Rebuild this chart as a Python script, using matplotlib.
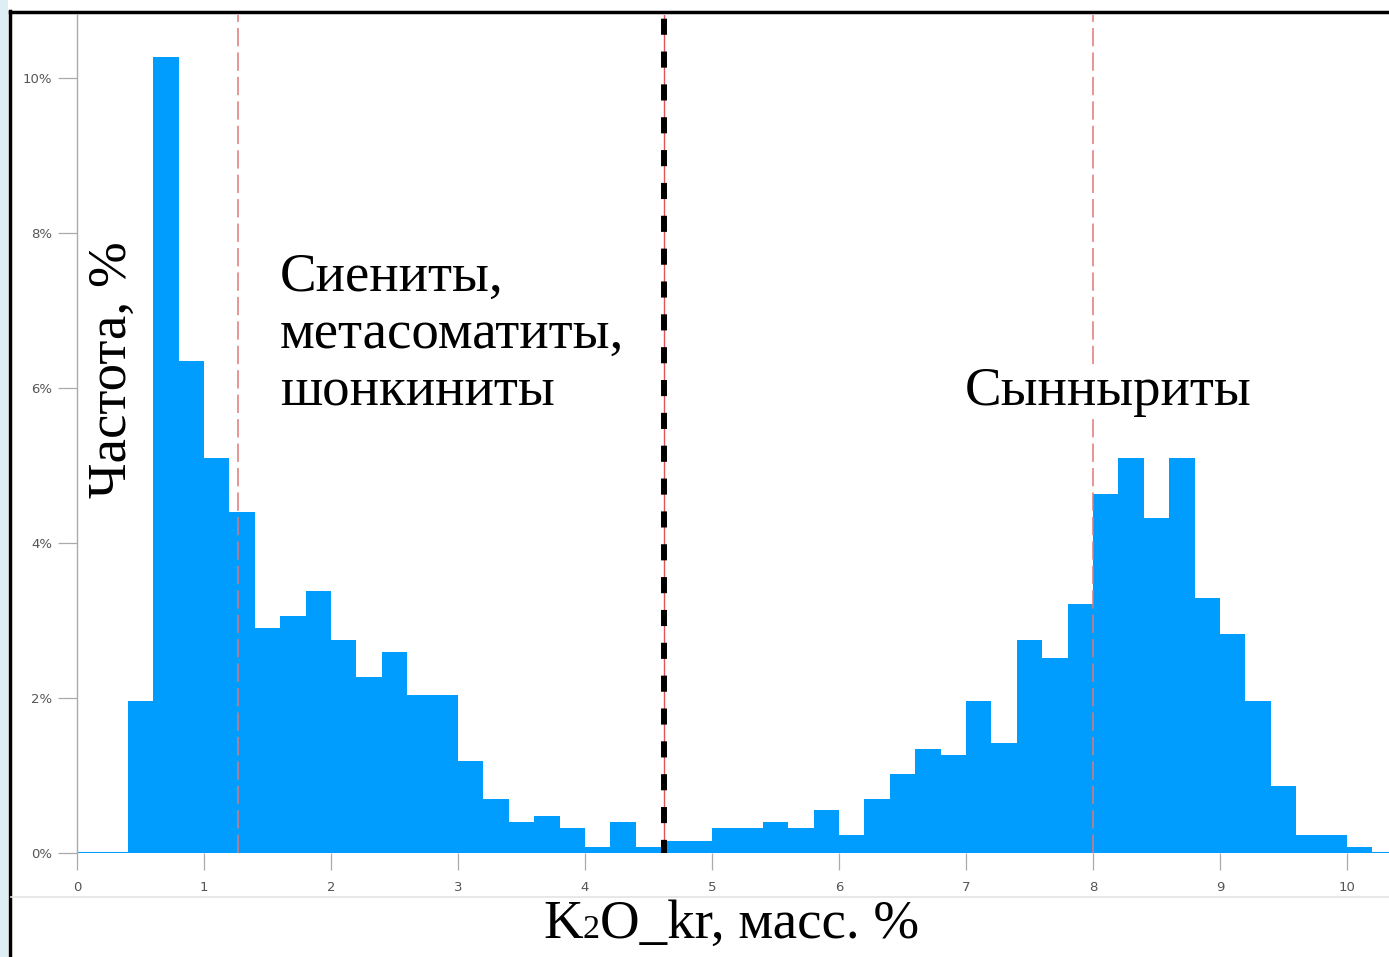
import numpy as np
import matplotlib.pyplot as plt
from matplotlib.lines import Line2D
from matplotlib.patches import Rectangle

# K2O_kr histogram, bin width 0.2 mass %, starting at 0
bin_width = 0.2
freq = [0, 0, 1.96, 10.27, 6.35, 5.10, 4.40, 2.90, 3.06, 3.38,
        2.75, 2.27, 2.59, 2.04, 2.04, 1.19, 0.70, 0.40, 0.48, 0.32,
        0.08, 0.40, 0.08, 0.16, 0.16, 0.32, 0.32, 0.40, 0.32, 0.55,
        0.23, 0.70, 1.02, 1.34, 1.26, 1.96, 1.42, 2.75, 2.52, 3.21,
        4.63, 5.10, 4.32, 5.10, 3.29, 2.83, 1.96, 0.86, 0.23, 0.23,
        0.08]
edges = np.round(np.arange(len(freq) + 1) * bin_width, 1)

mean_lines = [1.27, 8.0]
border = 4.62
xticks = list(range(0, 11))
yticks = [0, 2, 4, 6, 8, 10]

W, H = 1389, 957
fig = plt.figure(figsize=(W / 100, H / 100), dpi=100)
fig.patch.set_facecolor('white')

ax = fig.add_axes([77 / W, 1 - 853 / H, 1312 / W, (853 - 15) / H])
ax.set_facecolor('white')

blue = '#009DFF'
ax.stairs(freq, edges, fill=True, color=blue, zorder=2)
ax.axhline(0, color=blue, lw=1.5, zorder=2)

for x in mean_lines:
    ax.axvline(x, color='#E07878', lw=1.1, ls=(0, (12, 4)), zorder=3)
ax.axvline(border, color='#E05555', lw=1.0, zorder=3)
ax.axvline(border, color='black', lw=4.3, ls=(0.5, (2.7, 2.8)), zorder=4)

ax.set_xlim(0, 1312 / 127)
ax.set_ylim(0, (853 - 15) / 77.5)

for s in ['top', 'right', 'bottom']:
    ax.spines[s].set_visible(False)
ax.spines['left'].set_color('#AAAAAA')
ax.spines['left'].set_linewidth(1.0)

ax.set_xticks(xticks)
ax.set_xticklabels([str(t) for t in xticks])
ax.set_yticks(yticks)
ax.set_yticklabels([f'{t}%' for t in yticks])
ax.tick_params(axis='y', length=14, width=0.9, color='#AAAAAA', pad=4,
               labelsize=9.5, labelcolor='#555555')
ax.tick_params(axis='x', length=12, width=0.9, color='#AAAAAA', pad=8,
               labelsize=9.5, labelcolor='#555555')

serif = 'Liberation Serif'
fs = 39.5

ax.text(280 / W, 1 - 405 / H, 'Сиениты,\nметасоматиты,\nшонкиниты',
        transform=fig.transFigure, family=serif, fontsize=fs,
        ha='left', va='baseline', linespacing=1.17, zorder=5)
ax.text(965 / W, 1 - 405 / H, 'Сынныриты', transform=fig.transFigure,
        family=serif, fontsize=fs, ha='left', va='baseline', zorder=5,
        bbox=dict(facecolor='white', edgecolor='none', pad=1))

# y label
fig.text(113 / W, 1 - 370 / H, 'Частота, %', family=serif, fontsize=fs,
         rotation=90, ha='center', va='center')
# x label with small "2"
yb = 1 - 938 / H
t1 = fig.text(543 / W, yb, 'K', family=serif, fontsize=fs, va='baseline')
t2 = ax.annotate('2', xy=(1, yb), xycoords=(t1, 'figure fraction'),
                 family=serif, fontsize=fs * 0.62, va='baseline', ha='left',
                 annotation_clip=False)
ax.annotate('O_kr, масс. %', xy=(1, yb), xycoords=(t2, 'figure fraction'),
            family=serif, fontsize=fs, va='baseline', ha='left',
            annotation_clip=False)

# slide frame
fig.add_artist(Rectangle((0, 0), 8 / W, 1, transform=fig.transFigure,
                         facecolor='#DDEFF4', edgecolor='none'))
fig.add_artist(Line2D([10 / W, 10 / W], [0, 1 - 11 / H], transform=fig.transFigure,
                      color='black', lw=2.5))
fig.add_artist(Line2D([10 / W, 1], [1 - 12 / H, 1 - 12 / H], transform=fig.transFigure,
                      color='black', lw=2.5))
fig.add_artist(Line2D([11 / W, 1], [1 - 897 / H, 1 - 897 / H], transform=fig.transFigure,
                      color='#E4E4E4', lw=1.2))

fig.savefig('out.png', dpi=100)
